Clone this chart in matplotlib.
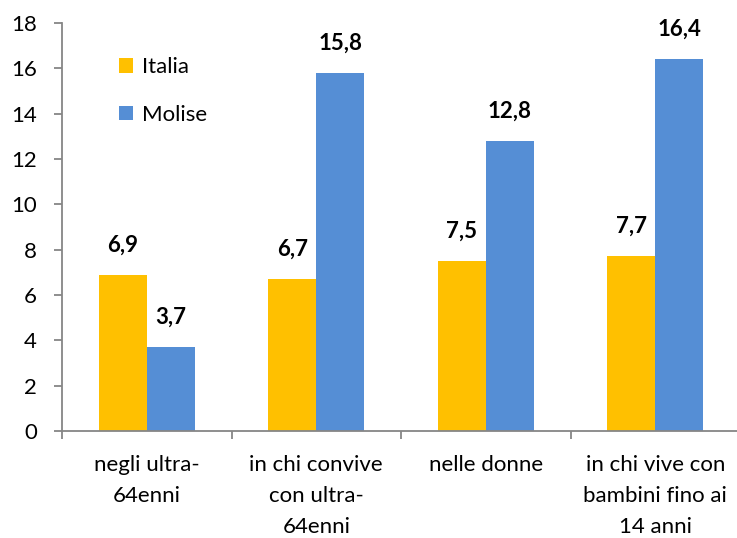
import numpy as np
import matplotlib.pyplot as plt

plt.rcParams['font.family'] = ['Lato', 'DejaVu Sans']

categorie = ["negli ultra-\n64enni", "in chi convive\ncon ultra-\n64enni",
             "nelle donne", "in chi vive con\nbambini fino ai\n14 anni"]
italia = [6.9, 6.7, 7.5, 7.7]
molise = [3.7, 15.8, 12.8, 16.4]

giallo = '#FFC000'
blu = '#558ED5'
grigio = '#868686'

fig = plt.figure(figsize=(7.37, 5.38), dpi=100)
ax = fig.add_axes([62/737, 1 - 431/538, 678/737, 408/538])

x = np.arange(len(categorie))
w = 0.282
b1 = ax.bar(x - w/2, italia, w, color=giallo, label='Italia')
b2 = ax.bar(x + w/2, molise, w, color=blu, label='Molise')

for bars, vals in ((b1, italia), (b2, molise)):
    for r, v in zip(bars, vals):
        ax.annotate(('%.1f' % v).replace('.', ','),
                    (r.get_x() + r.get_width()/2, v),
                    xytext=(0, 21.5), textcoords='offset points',
                    ha='center', va='center', fontsize=16, fontweight='bold')

ax.set_xlim(-0.5, 3.5)
ax.set_ylim(0, 18)
ax.set_yticks(range(0, 19, 2))

ax.set_xticks(x)
ax.set_xticklabels(categorie, fontsize=16, linespacing=1.7)
ax.set_xticks(np.arange(-0.5, 4, 1), minor=True)
ax.tick_params(axis='x', which='major', length=0, pad=17)
ax.tick_params(axis='x', which='minor', length=6, color=grigio, width=1.3)
ax.tick_params(axis='y', length=6, color=grigio, width=1.3, labelsize=16, pad=12)

for s in ('top', 'right'):
    ax.spines[s].set_visible(False)
for s in ('left', 'bottom'):
    ax.spines[s].set_color(grigio)
    ax.spines[s].set_linewidth(1.3)

ax.legend(loc='upper left', bbox_to_anchor=(0.055, 0.965), frameon=False,
          fontsize=16, handlelength=0.6, handleheight=0.6,
          labelspacing=1.25, handletextpad=0.4)

fig.savefig('out.png', dpi=100)
